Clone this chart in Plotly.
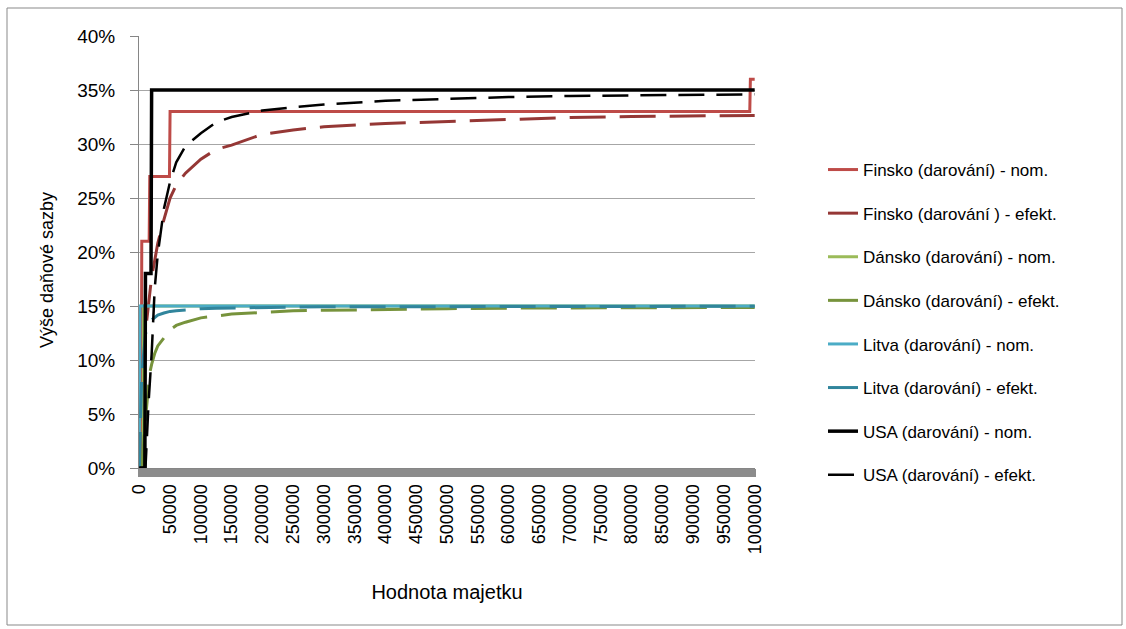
import plotly.graph_objects as go

# Nominal (step) and effective gift-tax rates, in percent, by property value
fin_nom_x = [0, 3000, 4000, 16000, 17000, 49000, 50000, 992000, 993000, 1000000]
fin_nom_y = [0, 0, 21, 21, 27, 27, 33, 33, 36, 36]

eff_x = [0, 4000, 10000, 15000, 17000, 20000, 25000, 30000, 40000, 50000, 60000, 75000,
         100000, 125000, 150000, 200000, 250000, 300000, 400000, 500000, 600000,
         700000, 800000, 900000, 1000000]
fin_eff_y = [0, 0, 12.6, 15.4, 16.0, 17.7, 19.2, 20.8, 23.0, 25.0, 26.2, 27.3,
             28.6, 29.5, 29.9, 30.9, 31.3, 31.6, 31.9, 32.1, 32.3,
             32.45, 32.55, 32.6, 32.65]

dk_nom_x = [0, 6000, 7000, 1000000]
dk_nom_y = [0, 0, 15, 15]
dk_eff_y = [0, 0, 4.5, 8.0, 8.8, 9.6, 10.6, 11.3, 12.1, 12.8, 13.2, 13.5,
            13.9, 14.05, 14.25, 14.4, 14.55, 14.6, 14.7, 14.75, 14.8,
            14.82, 14.84, 14.86, 14.87]

lt_nom_x = [0, 1000, 1000000]
lt_nom_y = [0, 15, 15]
lt_eff_y = [0, 8.6, 12.4, 13.3, 13.5, 13.7, 13.95, 14.15, 14.35, 14.5, 14.57, 14.65,
            14.75, 14.8, 14.83, 14.87, 14.9, 14.92, 14.94, 14.95, 14.96,
            14.96, 14.97, 14.97, 14.97]

us_nom_x = [0, 9000, 10000, 19000, 20000, 1000000]
us_nom_y = [0, 0, 18, 18, 35, 35]
us_eff_y = [0, 0, 0, 6.0, 7.5, 10.5, 16.6, 19.8, 24.0, 26.5, 28.3, 29.8,
            31.0, 32.0, 32.5, 33.1, 33.4, 33.65, 34.0, 34.2, 34.35,
            34.45, 34.5, 34.55, 34.6]

x_tick_vals = list(range(0, 1000001, 50000))
x_tick_text = [str(v) for v in x_tick_vals]
y_tick_vals = [0, 5, 10, 15, 20, 25, 30, 35, 40]
y_tick_text = [f"{v}%" for v in y_tick_vals]

series = [
    ("Finsko (darování) - nom.", fin_nom_x, fin_nom_y, "#BE4B48", "solid", 3),
    ("Finsko (darování ) - efekt.", eff_x, fin_eff_y, "#953735", "36px,14px", 3),
    ("Dánsko (darování) - nom.", dk_nom_x, dk_nom_y, "#9BBB59", "solid", 3),
    ("Dánsko (darování) - efekt.", eff_x, dk_eff_y, "#77933C", "36px,14px", 3),
    ("Litva (darování) - nom.", lt_nom_x, lt_nom_y, "#4BACC6", "solid", 3),
    ("Litva (darování) - efekt.", eff_x, lt_eff_y, "#31859C", "36px,14px", 3),
    ("USA (darování) - nom.", us_nom_x, us_nom_y, "#000000", "solid", 3.5),
    ("USA (darování) - efekt.", eff_x, us_eff_y, "#000000", "26px,12px", 2.5),
]

fig = go.Figure()
for i, (name, xs, ys, color, dash, width) in enumerate(series):
    fig.add_trace(go.Scatter(
        x=xs, y=ys, name=name, mode="lines", legendgroup=f"g{i}",
        line=dict(color=color, width=width, dash=dash),
    ))

FONT = "Liberation Sans, Arial, sans-serif"
L, R, T, B = 139, 371, 36, 161
W, H = 1126, 629
pw, ph = W - L - R, H - T - B

fig.update_layout(
    width=W, height=H,
    margin=dict(l=L, r=R, t=T, b=B, autoexpand=False),
    paper_bgcolor="white", plot_bgcolor="white",
    font=dict(family=FONT, size=17, color="#000000"),
    showlegend=True,
    legend=dict(
        x=(823 - L) / pw, y=(468 - 152) / ph, xanchor="left", yanchor="top",
        font=dict(size=17), tracegroupgap=18.5, bgcolor="rgba(0,0,0,0)",
    ),
    xaxis=dict(
        range=[-500, 1000500], tickmode="array", tickvals=x_tick_vals, ticktext=x_tick_text,
        tickangle=-90, showgrid=False, zeroline=False,
        showline=True, linecolor="#868686", linewidth=1,
        ticks="outside", ticklen=8, tickcolor="#8c8c8c", tickwidth=2,
        minor=dict(ticks="outside", dtick=2000, tick0=0, ticklen=8, tickwidth=2,
                   tickcolor="#8c8c8c", showgrid=False),
        tickfont=dict(size=18),
        title=dict(text="Hodnota majetku", font=dict(size=20), standoff=31),
        automargin=False,
    ),
    yaxis=dict(
        range=[0, 40], tickmode="array", tickvals=y_tick_vals, ticktext=y_tick_text,
        showgrid=True, gridcolor="#a6a6a6", gridwidth=1, zeroline=False,
        showline=True, linecolor="#868686", linewidth=1,
        ticks="outside", ticklen=8, tickcolor="#868686", ticklabelstandoff=11,
        tickfont=dict(size=19),
        automargin=False,
    ),
    annotations=[dict(
        text="Výše daňové sazby", textangle=-90, showarrow=False,
        xref="paper", yref="paper", x=(47 - L) / pw, y=(468 - 270) / ph,
        xanchor="center", yanchor="middle", font=dict(size=18),
    )],
    shapes=[dict(
        type="rect", xref="paper", yref="paper",
        x0=(7 - L) / pw, x1=(1122 - L) / pw, y0=(468 - 625) / ph, y1=(468 - 8) / ph,
        line=dict(color="#898989", width=1), fillcolor="rgba(0,0,0,0)", layer="below",
    )],
)

fig.write_html("out.html")
